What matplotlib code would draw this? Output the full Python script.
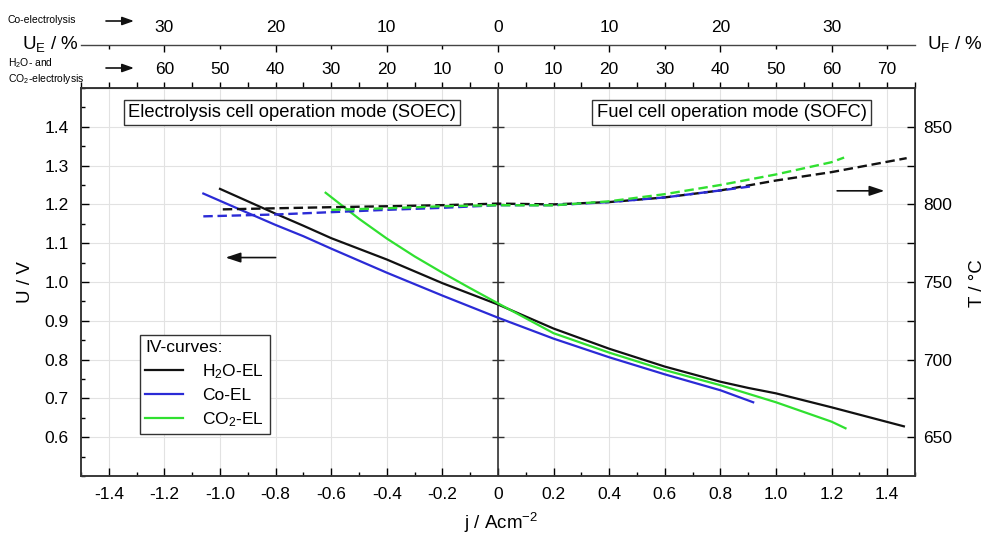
import numpy as np
import matplotlib
matplotlib.use('Agg')
import matplotlib.pyplot as plt
from matplotlib.ticker import FixedLocator, NullFormatter
from matplotlib.lines import Line2D

plt.rcParams['font.family'] = ['Liberation Sans', 'DejaVu Sans']
plt.rcParams['mathtext.fontset'] = 'custom'
plt.rcParams['mathtext.rm'] = 'Liberation Sans'
plt.rcParams['mathtext.it'] = 'Liberation Sans'
plt.rcParams['mathtext.default'] = 'regular'

# ---------------- data ----------------
# IV curves (U in V vs j in A/cm^2)
h2o_j = [-1.0, -0.9, -0.8, -0.7, -0.6, -0.4, -0.2, 0.0, 0.2, 0.4, 0.6, 0.8, 0.9, 1.0, 1.2, 1.46]
h2o_U = [1.24, 1.208, 1.176, 1.145, 1.113, 1.058, 0.997, 0.942, 0.880, 0.828, 0.782, 0.743, 0.727, 0.713, 0.677, 0.628]

co_j = [-1.06, -0.9, -0.8, -0.7, -0.6, -0.4, -0.2, 0.0, 0.2, 0.4, 0.6, 0.8, 0.918]
co_U = [1.228, 1.178, 1.147, 1.118, 1.086, 1.024, 0.965, 0.908, 0.854, 0.806, 0.762, 0.721, 0.690]

co2_j = [-0.62, -0.5, -0.4, -0.3, -0.2, -0.1, 0.0, 0.2, 0.4, 0.6, 0.8, 1.0, 1.2, 1.25]
co2_U = [1.230, 1.163, 1.112, 1.066, 1.024, 0.984, 0.945, 0.868, 0.818, 0.773, 0.734, 0.690, 0.640, 0.623]

# Temperature curves (T in °C vs j)
h2o_Tj = [-0.99, -0.8, -0.6, -0.4, -0.2, 0.0, 0.2, 0.4, 0.6, 0.8, 1.0, 1.2, 1.47]
h2o_T = [796.8, 797.5, 798.2, 798.8, 799.5, 800.5, 800.0, 801.5, 804.5, 809.0, 815.4, 820.8, 829.8]

co_Tj = [-1.06, -0.8, -0.6, -0.4, -0.2, 0.0, 0.2, 0.4, 0.6, 0.8, 0.91]
co_T = [792.3, 793.5, 795.0, 796.5, 797.8, 799.5, 799.5, 801.5, 804.5, 809.0, 811.6]

co2_Tj = [-0.6, -0.4, -0.2, 0.0, 0.2, 0.4, 0.6, 0.8, 1.0, 1.2, 1.245]
co2_T = [796.5, 797.5, 798.8, 799.5, 799.4, 802.0, 806.6, 812.5, 819.3, 827.2, 830.2]

series_labels = ['H$_2$O-EL', 'Co-EL', 'CO$_2$-EL']
series_colors = ['#111111', '#2b2bd6', '#30e030']

x_ticks = [-1.4, -1.2, -1.0, -0.8, -0.6, -0.4, -0.2, 0.0, 0.2, 0.4, 0.6, 0.8, 1.0, 1.2, 1.4]
x_tick_labels = ['-1.4', '-1.2', '-1.0', '-0.8', '-0.6', '-0.4', '-0.2', '0',
                 '0.2', '0.4', '0.6', '0.8', '1.0', '1.2', '1.4']
y_ticks = [0.6, 0.7, 0.8, 0.9, 1.0, 1.1, 1.2, 1.3, 1.4]
y_tick_labels = ['0.6', '0.7', '0.8', '0.9', '1.0', '1.1', '1.2', '1.3', '1.4']
t_ticks = [650, 700, 750, 800, 850]
t_tick_labels = ['650', '700', '750', '800', '850']

# utilisation scales (%)
ue_co_left = [30, 20, 10, 0]          # co-electrolysis, SOEC side
ue_co_right = [10, 20, 30]            # SOFC side
ue_h2o_left = [60, 50, 40, 30, 20, 10, 0]
ue_h2o_right = [10, 20, 30, 40, 50, 60, 70]
co_pct_per_j = 25.0    # % per A/cm^2 (co-electrolysis scale)
h2o_pct_per_j = 50.0   # % per A/cm^2 (H2O / CO2 scale)

# ---------------- figure ----------------
W, H = 984, 535
fig = plt.figure(figsize=(W / 100, H / 100), dpi=100)

def fx(x):
    return x / W

def fy(y):
    return 1 - y / H

L, R, T, B = 81, 915, 88, 476
ax = fig.add_axes([fx(L), fy(B), (R - L) / W, (B - T) / H])
ax.set_xlim(-1.5, 1.5)
ax.set_ylim(0.5, 1.5)

FS = 12.5
ax.set_xticks(x_ticks, labels=x_tick_labels)
ax.set_yticks(y_ticks, labels=y_tick_labels)
ax.xaxis.set_minor_locator(FixedLocator(np.arange(-1.5, 1.51, 0.1)))
ax.yaxis.set_minor_locator(FixedLocator(np.arange(0.5, 1.501, 0.05)))
ax.tick_params(axis='both', which='major', direction='in', length=6, width=1, labelsize=FS)
ax.tick_params(axis='both', which='minor', direction='in', length=3, width=1)
ax.tick_params(axis='x', which='both', top=False, pad=8)
ax.tick_params(axis='y', which='both', right=False, pad=9)
ax.grid(True, which='major', color='#e2e2e2', lw=0.8)
ax.set_axisbelow(True)
for s in ax.spines.values():
    s.set_color('#333333')
    s.set_linewidth(1.1)

# centre line with ticks
ax.axvline(0, color='#333333', lw=1.2, zorder=1.5)
ax.plot(np.zeros(len(y_ticks)), y_ticks, ls='none', marker='_', ms=9, mew=1.0,
        color='#333333', zorder=1.5)

# IV curves
for jj, uu, c in zip([h2o_j, co_j, co2_j], [h2o_U, co_U, co2_U], series_colors):
    ax.plot(jj, uu, color=c, lw=1.6, zorder=3)

# temperature axis
ax2 = ax.twinx()
ax2.set_ylim(625, 875)
ax2.set_yticks(t_ticks, labels=t_tick_labels)
ax2.yaxis.set_minor_locator(FixedLocator([675, 725, 775, 825]))
ax2.yaxis.set_minor_formatter(NullFormatter())
ax2.tick_params(axis='y', which='both', direction='in', length=6, width=1, labelsize=FS, pad=6)
for s in ax2.spines.values():
    s.set_color('#333333')
    s.set_linewidth(1.1)
for jj, tt, c in zip([h2o_Tj, co_Tj, co2_Tj], [h2o_T, co_T, co2_T], series_colors):
    ax2.plot(jj, tt, color=c, lw=1.7, ls=(0, (4, 2)), zorder=3)

# top axis (H2O / CO2 utilisation)
sec = ax.secondary_xaxis('top')
h2o_pos = [-v / h2o_pct_per_j for v in ue_h2o_left] + [v / h2o_pct_per_j for v in ue_h2o_right]
h2o_lab = [str(v) for v in ue_h2o_left] + [str(v) for v in ue_h2o_right]
sec.set_xticks(h2o_pos, labels=h2o_lab)
sec.xaxis.set_minor_locator(FixedLocator(np.arange(-1.5, 1.51, 0.1)))
sec.tick_params(axis='x', which='major', direction='out', length=4, width=1, labelsize=FS, pad=4)
sec.tick_params(axis='x', which='minor', direction='out', length=4, width=1)
sec.spines['top'].set_color('#333333')

# upper axis (co-electrolysis utilisation)
axu = fig.add_axes([fx(L), fy(45), (R - L) / W, 1e-4])
axu.set_xlim(-1.5, 1.5)
axu.set_ylim(0, 1)
axu.yaxis.set_visible(False)
for k in ['top', 'left', 'right']:
    axu.spines[k].set_visible(False)
axu.spines['bottom'].set_color('#444444')
axu.spines['bottom'].set_linewidth(1.0)
axu.patch.set_visible(False)
co_pos = [-v / co_pct_per_j for v in ue_co_left] + [v / co_pct_per_j for v in ue_co_right]
co_lab = [str(v) for v in ue_co_left] + [str(v) for v in ue_co_right]
axu.set_xticks(co_pos, labels=co_lab)
axu.xaxis.set_minor_locator(FixedLocator([v / co_pct_per_j for v in (-35, -25, -15, -5, 5, 15, 25, 35)]))
axu.tick_params(axis='x', which='both', bottom=True, top=False, labelbottom=False,
                labeltop=True, direction='out', width=1, labelsize=FS)
axu.tick_params(axis='x', which='major', length=5, pad=2.5)
axu.tick_params(axis='x', which='minor', length=3)

# mode boxes
box = dict(boxstyle='square,pad=0.22', fc='white', ec='#333333', lw=1.0)
ax.text(-0.74, 1.436, 'Electrolysis cell operation mode (SOEC)', ha='center', va='center',
        fontsize=13.2, bbox=box, zorder=5)
ax.text(0.84, 1.436, 'Fuel cell operation mode (SOFC)', ha='center', va='center',
        fontsize=13.2, bbox=box, zorder=5)

# direction arrows
arr = dict(arrowstyle='-|>,head_length=0.9,head_width=0.3', color='#111111', lw=1.2,
           shrinkA=0, shrinkB=0)
ax.annotate('', xy=(-0.98, 1.063), xytext=(-0.80, 1.063), arrowprops=arr)
ax.annotate('', xy=(1.39, 1.235), xytext=(1.22, 1.235), arrowprops=arr)

# legend
handles = [Line2D([0], [0], color=c, lw=1.6) for c in series_colors]
leg = ax.legend(handles, series_labels, title='IV-curves:', loc='upper left',
                bbox_to_anchor=(fx(140), fy(335)), bbox_transform=fig.transFigure,
                frameon=True, fancybox=False, edgecolor='#333333', framealpha=1,
                borderaxespad=0, handlelength=2.2, handletextpad=1.1, alignment='left',
                fontsize=12.5, title_fontsize=12.5, borderpad=0.3, labelspacing=0.4)
leg.get_frame().set_linewidth(1.0)
leg.set_zorder(6)

# axis labels
fig.text(fx(25), fy(282), 'U / V', rotation=90, ha='center', va='center', fontsize=13.5)
fig.text(fx(977), fy(283), 'T / °C', rotation=90, ha='center', va='center', fontsize=13.5)
fig.text(fx(501), fy(523), 'j / Acm$^{-2}$', ha='center', va='center', fontsize=13.5)
fig.text(fx(22), fy(44), 'U$_E$ / %', ha='left', va='center', fontsize=13.5)
fig.text(fx(927), fy(44), 'U$_F$ / %', ha='left', va='center', fontsize=13.5)

# scale captions
fig.text(fx(8), fy(20), 'Co-electrolysis', ha='left', va='center', fontsize=7.5)
fig.text(fx(8), fy(63), 'H$_2$O- and', ha='left', va='center', fontsize=7.5)
fig.text(fx(8), fy(79), 'CO$_2$-electrolysis', ha='left', va='center', fontsize=7.5)
farr = dict(arrowstyle='-|>,head_length=0.7,head_width=0.25', color='#111111', lw=1.2,
            shrinkA=0, shrinkB=0)
for yy in (21, 68):
    ax.annotate('', xy=(fx(134), fy(yy)), xytext=(fx(106), fy(yy)),
                xycoords='figure fraction', textcoords='figure fraction',
                arrowprops=farr, annotation_clip=False)

fig.savefig('out.png', dpi=100)
